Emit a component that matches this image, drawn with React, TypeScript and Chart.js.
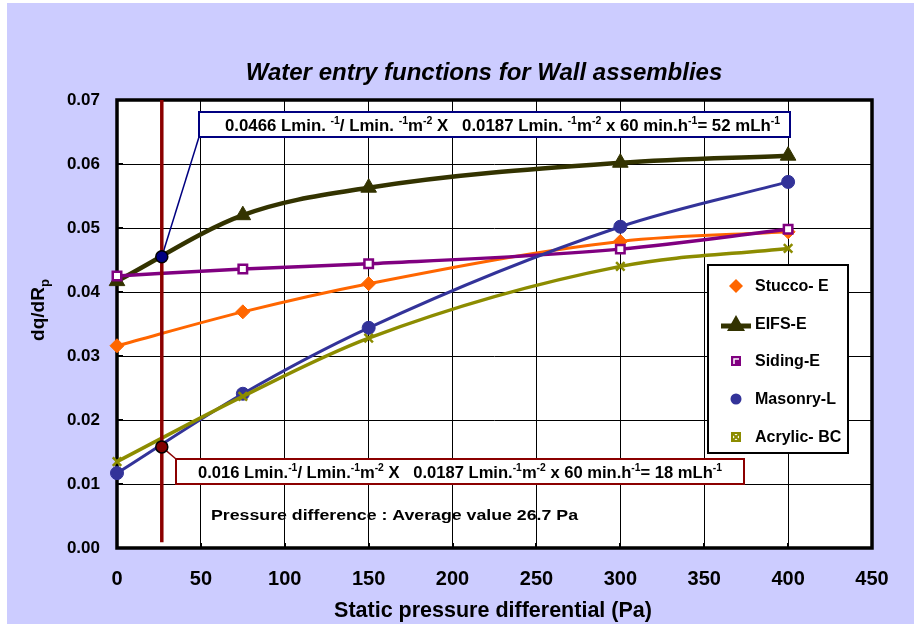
import React, { useEffect, useRef } from "react";
import { Chart, registerables } from "chart.js";

Chart.register(...registerables);

// ---- data ----
const pressures = [0, 75, 150, 300, 400];
const stuccoE = [0.0316, 0.0369, 0.0413, 0.0479, 0.0494];
const eifsE = [0.0417, 0.052, 0.0563, 0.0602, 0.0613];
const sidingE = [0.0425, 0.0436, 0.0444, 0.0467, 0.0498];
const masonryL = [0.0117, 0.0241, 0.0344, 0.0502, 0.0572];
const acrylicBC = [0.0135, 0.0237, 0.0328, 0.044, 0.0468];

const seriesNames = ["Stucco- E", "EIFS-E", "Siding-E", "Masonry-L", "Acrylic- BC"];
const averagePressure = 26.7;
const avgLineRange = [0.0009, 0.07];
const highlightValues = [0.0455, 0.0158]; // EIFS-E and Masonry-L at average pressure

const xTicks = { min: 0, max: 450, step: 50 };
const yTicks = { min: 0, max: 0.07, step: 0.01 };

const titleText = "Water entry functions for Wall assemblies";
const xTitle = "Static pressure differential (Pa)";
const yTitleMain = "dq/dR";
const yTitleSub = "p";
const pressureNote = "Pressure difference : Average value 26.7 Pa";

type Seg = { t: string; sup?: boolean };
const topNote: Seg[] = [
  { t: "0.0466 Lmin. " }, { t: "-1", sup: true }, { t: "/ Lmin. " }, { t: "-1", sup: true },
  { t: "m" }, { t: "-2", sup: true }, { t: " X   0.0187 Lmin. " }, { t: "-1", sup: true },
  { t: "m" }, { t: "-2", sup: true }, { t: " x 60 min.h" }, { t: "-1", sup: true },
  { t: "= 52 mLh" }, { t: "-1", sup: true },
];
const bottomNote: Seg[] = [
  { t: "0.016 Lmin." }, { t: "-1", sup: true }, { t: "/ Lmin." }, { t: "-1", sup: true },
  { t: "m" }, { t: "-2", sup: true }, { t: " X   0.0187 Lmin." }, { t: "-1", sup: true },
  { t: "m" }, { t: "-2", sup: true }, { t: " x 60 min.h" }, { t: "-1", sup: true },
  { t: "= 18 mLh" }, { t: "-1", sup: true },
];

const FONT = '"Liberation Sans", Arial, Helvetica, sans-serif';
const NARROW = '"Liberation Sans Narrow", "Arial Narrow", "Liberation Sans", Arial, sans-serif';
const COLORS = ["#FF6600", "#333300", "#800080", "#333399", "#8C8C00"];
const LAVENDER = "#CCCCFF";

function drawRich(ctx: CanvasRenderingContext2D, segs: Seg[], x: number, baseline: number, size: number, width: number) {
  const base = `bold ${size}px ${FONT}`;
  const sup = `bold ${Math.round(size * 0.62)}px ${FONT}`;
  let natural = 0;
  for (const s of segs) {
    ctx.font = s.sup ? sup : base;
    natural += ctx.measureText(s.t).width;
  }
  ctx.save();
  ctx.translate(x, baseline);
  ctx.scale(width / natural, 1);
  ctx.fillStyle = "#000";
  ctx.textBaseline = "alphabetic";
  ctx.textAlign = "left";
  let cx = 0;
  for (const s of segs) {
    ctx.font = s.sup ? sup : base;
    ctx.fillText(s.t, cx, s.sup ? -size * 0.42 : 0);
    cx += ctx.measureText(s.t).width;
  }
  ctx.restore();
}

function drawFitted(ctx: CanvasRenderingContext2D, text: string, x: number, baseline: number, font: string, width: number) {
  ctx.save();
  ctx.font = font;
  const w = ctx.measureText(text).width;
  ctx.translate(x, baseline);
  ctx.scale(width / w, 1);
  ctx.fillStyle = "#000";
  ctx.textAlign = "left";
  ctx.textBaseline = "alphabetic";
  ctx.fillText(text, 0, 0);
  ctx.restore();
}

function drawMarker(ctx: CanvasRenderingContext2D, kind: string, x: number, y: number, color: string) {
  ctx.save();
  ctx.fillStyle = color;
  ctx.strokeStyle = color;
  ctx.beginPath();
  if (kind === "diamond") {
    const r = 7;
    ctx.moveTo(x, y - r); ctx.lineTo(x + r, y); ctx.lineTo(x, y + r); ctx.lineTo(x - r, y); ctx.closePath(); ctx.fill();
  } else if (kind === "triangle") {
    ctx.lineWidth = 5;
    ctx.moveTo(x - 15, y + 2); ctx.lineTo(x + 15, y + 2); ctx.stroke();
    ctx.beginPath();
    ctx.moveTo(x, y - 9); ctx.lineTo(x + 9, y + 7); ctx.lineTo(x - 9, y + 7); ctx.closePath(); ctx.fill();
  } else if (kind === "square") {
    ctx.fillRect(x - 5, y - 5, 10, 10);
    ctx.strokeStyle = "#fff"; ctx.lineWidth = 1.5;
    ctx.beginPath(); ctx.moveTo(x - 2, y + 3); ctx.lineTo(x - 2, y - 2); ctx.lineTo(x + 3, y - 2); ctx.stroke();
  } else if (kind === "circle") {
    ctx.arc(x, y, 5.5, 0, Math.PI * 2); ctx.fill();
  } else if (kind === "x") {
    ctx.lineWidth = 2;
    ctx.strokeRect(x - 4, y - 4, 8, 8);
    ctx.beginPath(); ctx.moveTo(x - 4, y - 4); ctx.lineTo(x + 4, y + 4); ctx.moveTo(x + 4, y - 4); ctx.lineTo(x - 4, y + 4); ctx.stroke();
  }
  ctx.restore();
}

export default function App() {
  const ref = useRef<HTMLCanvasElement>(null);

  useEffect(() => {
    document.body.style.margin = "0";
    const canvas = ref.current!;

    const mk = (i: number, values: number[], style: string, radius: number, width: number, bg?: string) => ({
      label: seriesNames[i],
      data: pressures.map((x, k) => ({ x, y: values[k] })),
      borderColor: COLORS[i],
      backgroundColor: COLORS[i],
      borderWidth: width,
      pointStyle: style,
      pointRadius: radius,
      pointBorderColor: COLORS[i],
      pointBackgroundColor: bg ?? COLORS[i],
      pointBorderWidth: style === "crossRot" ? 2.5 : bg ? 2.5 : 1,
      cubicInterpolationMode: "monotone",
      fill: false,
      clip: false,
      order: 10 - i,
    });

    const bgPlugin = {
      id: "bg",
      beforeDraw(chart: any) {
        const { ctx, width, height, chartArea: ca } = chart;
        ctx.save();
        ctx.fillStyle = "#fff";
        ctx.fillRect(0, 0, width, height);
        ctx.fillStyle = LAVENDER;
        ctx.fillRect(7, 3, width - 7, height - 3);
        ctx.fillStyle = "#fff";
        ctx.fillRect(ca.left, ca.top, ca.right - ca.left, ca.bottom - ca.top);
        ctx.restore();
      },
      beforeDatasetsDraw(chart: any) {
        const { ctx, chartArea: ca, scales } = chart;
        ctx.save();
        ctx.strokeStyle = "#000";
        ctx.lineWidth = 2;
        for (let v = yTicks.min + yTicks.step; v < yTicks.max - 1e-9; v += yTicks.step) {
          const py = Math.round(scales.y.getPixelForValue(v));
          ctx.beginPath(); ctx.moveTo(ca.left, py); ctx.lineTo(ca.left + 6, py); ctx.stroke();
        }
        for (let v = xTicks.min + xTicks.step; v < xTicks.max; v += xTicks.step) {
          const px = Math.round(scales.x.getPixelForValue(v));
          ctx.beginPath(); ctx.moveTo(px, ca.bottom); ctx.lineTo(px, ca.bottom - 5); ctx.stroke();
        }
        ctx.lineWidth = 3.5;
        ctx.strokeRect(ca.left, ca.top, ca.right - ca.left, ca.bottom - ca.top);
        const px = scales.x.getPixelForValue(averagePressure);
        ctx.lineWidth = 1.5;
        ctx.strokeStyle = "#000080";
        ctx.beginPath(); ctx.moveTo(199, 137); ctx.lineTo(px, scales.y.getPixelForValue(highlightValues[0])); ctx.stroke();
        ctx.strokeStyle = "#8B0000";
        ctx.beginPath(); ctx.moveTo(px, scales.y.getPixelForValue(highlightValues[1])); ctx.lineTo(176, 459); ctx.stroke();
        ctx.restore();
      },
      afterDraw(chart: any) {
        const { ctx, chartArea: ca } = chart;
        ctx.save();
        ctx.fillStyle = "#000";
        ctx.textAlign = "center";
        ctx.textBaseline = "alphabetic";
        ctx.font = `italic bold 24px ${FONT}`;
        ctx.fillText(titleText, 484, 80);
        ctx.font = `bold 21.5px ${FONT}`;
        ctx.fillText(xTitle, 493, 617);
        ctx.save();
        ctx.translate(44, 310);
        ctx.rotate(-Math.PI / 2);
        ctx.font = `bold 19px ${FONT}`;
        const wMain = ctx.measureText(yTitleMain).width;
        ctx.font = `bold 13px ${FONT}`;
        const wSub = ctx.measureText(yTitleSub).width;
        const start = -(wMain + wSub) / 2;
        ctx.textAlign = "left";
        ctx.font = `bold 19px ${FONT}`;
        ctx.fillText(yTitleMain, start, 0);
        ctx.font = `bold 13px ${FONT}`;
        ctx.fillText(yTitleSub, start + wMain, 5);
        ctx.restore();

        ctx.fillStyle = "#fff";
        ctx.fillRect(199, 112, 591, 25);
        ctx.strokeStyle = "#000080";
        ctx.lineWidth = 2;
        ctx.strokeRect(199, 112, 591, 25);
        drawRich(ctx, topNote, 225, 131, 16, 555);

        ctx.fillStyle = "#fff";
        ctx.fillRect(176, 459, 568, 25);
        ctx.strokeStyle = "#8B0000";
        ctx.lineWidth = 2;
        ctx.strokeRect(176, 459, 568, 25);
        drawRich(ctx, bottomNote, 198, 478, 16, 524);

        drawFitted(ctx, pressureNote, 211, 520, `bold 14px ${FONT}`, 367);

        ctx.fillStyle = "#fff";
        ctx.fillRect(708, 265, 140, 188);
        ctx.strokeStyle = "#000";
        ctx.lineWidth = 2;
        ctx.strokeRect(708, 265, 140, 188);
        const kinds = ["diamond", "triangle", "square", "circle", "x"];
        const ys = [286, 324, 361, 399, 437];
        for (let i = 0; i < seriesNames.length; i++) {
          drawMarker(ctx, kinds[i], 736, ys[i], COLORS[i]);
          ctx.fillStyle = "#000";
          ctx.textAlign = "left";
          ctx.textBaseline = "middle";
          ctx.font = `bold 16px ${FONT}`;
          ctx.fillText(seriesNames[i], 755, ys[i] + 1);
        }
        ctx.restore();
      },
    };

    const chart = new Chart(canvas, {
      type: "line",
      data: {
        datasets: [
          mk(0, stuccoE, "rectRot", 7, 3),
          mk(1, eifsE, "triangle", 9, 4.5),
          mk(2, sidingE, "rect", 6, 3.5, "#ffffff"),
          mk(3, masonryL, "circle", 6.5, 3),
          mk(4, acrylicBC, "crossRot", 6, 3.5),
          {
            label: "avg",
            data: avgLineRange.map((y) => ({ x: averagePressure, y })),
            borderColor: "#8B0000",
            borderWidth: 3.5,
            pointRadius: 0,
            tension: 0,
            clip: false,
            order: 1,
          },
          {
            label: "marks",
            data: highlightValues.map((y) => ({ x: averagePressure, y })),
            showLine: false,
            pointRadius: 6,
            pointBackgroundColor: ["#000080", "#800000"],
            pointBorderColor: "#000",
            pointBorderWidth: 1.5,
            clip: false,
            order: 0,
          },
        ] as any,
      },
      options: {
        animation: false,
        responsive: false,
        maintainAspectRatio: false,
        layout: { padding: { top: 100, right: 42, left: 0, bottom: 0 } },
        plugins: {
          legend: { display: false },
          title: { display: false },
          tooltip: { enabled: false },
        },
        scales: {
          x: {
            type: "linear",
            min: xTicks.min,
            max: xTicks.max,
            ticks: {
              stepSize: xTicks.step,
              color: "#000",
              font: { family: NARROW, size: 20, weight: "bold" },
              padding: 19,
              maxRotation: 0,
            },
            grid: { color: "#000", lineWidth: 1, drawTicks: false },
            border: { display: false },
            afterFit: (s: any) => { s.height = 76; },
          },
          y: {
            type: "linear",
            min: yTicks.min,
            max: yTicks.max,
            ticks: {
              stepSize: yTicks.step,
              color: "#000",
              font: { family: NARROW, size: 17, weight: "bold" },
              padding: 17,
              callback: (v: any) => Number(v).toFixed(2),
            },
            grid: { color: "#000", lineWidth: 1, drawTicks: false },
            border: { display: false },
            afterFit: (s: any) => { s.width = 117; },
          },
        },
      } as any,
      plugins: [bgPlugin],
    });

    return () => chart.destroy();
  }, []);

  return (
    <div style={{ width: 914, height: 624, position: "relative" }}>
      <canvas ref={ref} width={914} height={624} style={{ display: "block", width: 914, height: 624 }} />
    </div>
  );
}
